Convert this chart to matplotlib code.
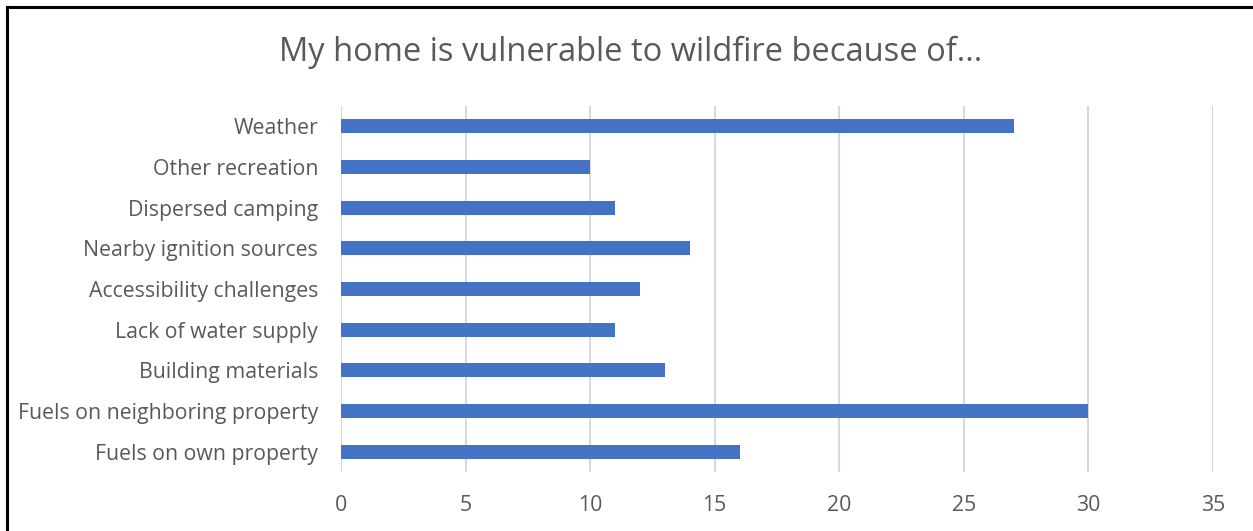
import matplotlib.pyplot as plt
from matplotlib.lines import Line2D

categories = [
    "Fuels on own property",
    "Fuels on neighboring property",
    "Building materials",
    "Lack of water supply",
    "Accessibility challenges",
    "Nearby ignition sources",
    "Dispersed camping",
    "Other recreation",
    "Weather",
]
counts = [16, 30, 13, 11, 12, 14, 11, 10, 27]
x_ticks = [0, 5, 10, 15, 20, 25, 30, 35]

W, H = 1253, 531
fig = plt.figure(figsize=(W / 100, H / 100), dpi=100)
plt.rcParams['font.family'] = ['Open Sans', 'DejaVu Sans']

# axes box in pixels: left 341, right 1213, top 106, bottom 472
ax = fig.add_axes([341 / W, 1 - 472 / H, (1213 - 341) / W, (472 - 106) / H])

ax.barh(range(len(categories)), counts, height=0.35, color='#4472C4', zorder=3)
ax.set_xlim(0, 35)
ax.set_ylim(-0.5, len(categories) - 0.5)
ax.set_xticks(x_ticks)
ax.set_yticks(range(len(categories)))
ax.set_yticklabels(categories)

for s in ax.spines.values():
    s.set_visible(False)
ax.grid(axis='x', color='#D9D9D9', linewidth=1.5, zorder=0)
ax.tick_params(axis='both', length=0, labelsize=15.3, colors='#595959')
ax.tick_params(axis='y', pad=16.5)
ax.tick_params(axis='x', pad=16.5)

fig.text(631 / W, 1 - 52 / H, "My home is vulnerable to wildfire because of...",
         ha='center', va='center', fontsize=23.5, color='#595959')

# black frame, cut off at right and bottom
fig.add_artist(Line2D([7 / W, 1.0], [1 - 7 / H, 1 - 7 / H], color='black', linewidth=2.2,
                      transform=fig.transFigure))
fig.add_artist(Line2D([7 / W, 7 / W], [1 - 7 / H, 0.0], color='black', linewidth=2.2,
                      transform=fig.transFigure))

fig.savefig("out.png", dpi=100)
